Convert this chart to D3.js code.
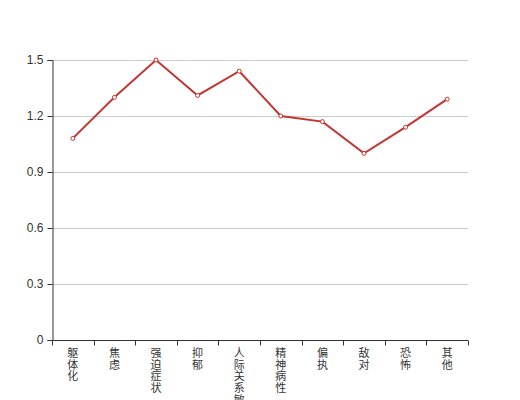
<!DOCTYPE html>
<html><head><meta charset="utf-8">
<script src="https://cdn.jsdelivr.net/npm/d3@7/dist/d3.min.js"></script>
<style>body{margin:0;background:#fff;}svg{display:block;font-family:"Noto Sans CJK SC",sans-serif;}</style>
</head><body><svg id="c" width="520" height="400"></svg>
<script>
const categories = ["躯体化","焦虑","强迫症状","抑郁","人际关系敏感","精神病性","偏执","敌对","恐怖","其他"];
const values = [1.08,1.30,1.50,1.31,1.44,1.20,1.17,1.00,1.14,1.29];
const yTicks = [0,0.3,0.6,0.9,1.2,1.5];

const svg = d3.select("#c");
const m = {left:52, right:468, top:60, bottom:340};
const x = d3.scaleBand().domain(categories).range([m.left, m.right]);
const y = d3.scaleLinear().domain([0,1.5]).range([m.bottom, m.top]);

// grid
svg.append("g").selectAll("line").data(yTicks.filter(d=>d>0)).join("line")
  .attr("x1", m.left).attr("x2", m.right)
  .attr("y1", d=>Math.round(y(d))+0.5).attr("y2", d=>Math.round(y(d))+0.5)
  .attr("stroke","#ccc").attr("stroke-width",1);

// y axis
const ya = svg.append("g").attr("transform",`translate(${m.left+0.5},0)`)
  .call(d3.axisLeft(y).tickValues(yTicks).tickFormat(d=>d===0?"0":d3.format(".1f")(d)).tickSize(5).tickPadding(4));
ya.select(".domain").attr("stroke","#333");
ya.selectAll(".tick line").attr("stroke","#333");
ya.selectAll(".tick text").attr("fill","#333").style("font-size","12px").style("font-family","sans-serif");

// x axis
const xa = svg.append("g").attr("transform",`translate(0,${m.bottom+0.5})`)
  .call(d3.axisBottom(x).tickSize(0).tickFormat(""));
xa.select(".domain").attr("stroke","#333").attr("d",`M${m.left},0H${m.right}`);
const bounds = categories.map(c=>x(c)).concat([m.right]);
xa.selectAll(".bt").data(bounds).join("line").attr("class","bt")
  .attr("x1",d=>Math.round(d)+0.5).attr("x2",d=>Math.round(d)+0.5).attr("y1",0).attr("y2",5)
  .attr("stroke","#333");
const lbl = svg.append("g");
categories.forEach(c=>{
  const t = lbl.append("text").attr("x", x(c)+x.bandwidth()/2).attr("y", 357)
    .attr("text-anchor","middle").attr("fill","#333").style("font-size","11px");
  [...c].forEach((ch,i)=>{
    t.append("tspan").attr("x", x(c)+x.bandwidth()/2).attr("dy", i===0?0:11.7).text(ch);
  });
});

// line
const cx = d=>x(d)+x.bandwidth()/2;
svg.append("path").datum(values)
  .attr("d", d3.line().x((d,i)=>cx(categories[i])).y(d=>y(d)))
  .attr("fill","none").attr("stroke","#c23531").attr("stroke-width",2);
svg.append("g").selectAll("circle").data(values).join("circle")
  .attr("cx",(d,i)=>cx(categories[i])).attr("cy",d=>y(d)).attr("r",2)
  .attr("fill","#fff").attr("stroke","#c23531").attr("stroke-width",1);
</script></body></html>
